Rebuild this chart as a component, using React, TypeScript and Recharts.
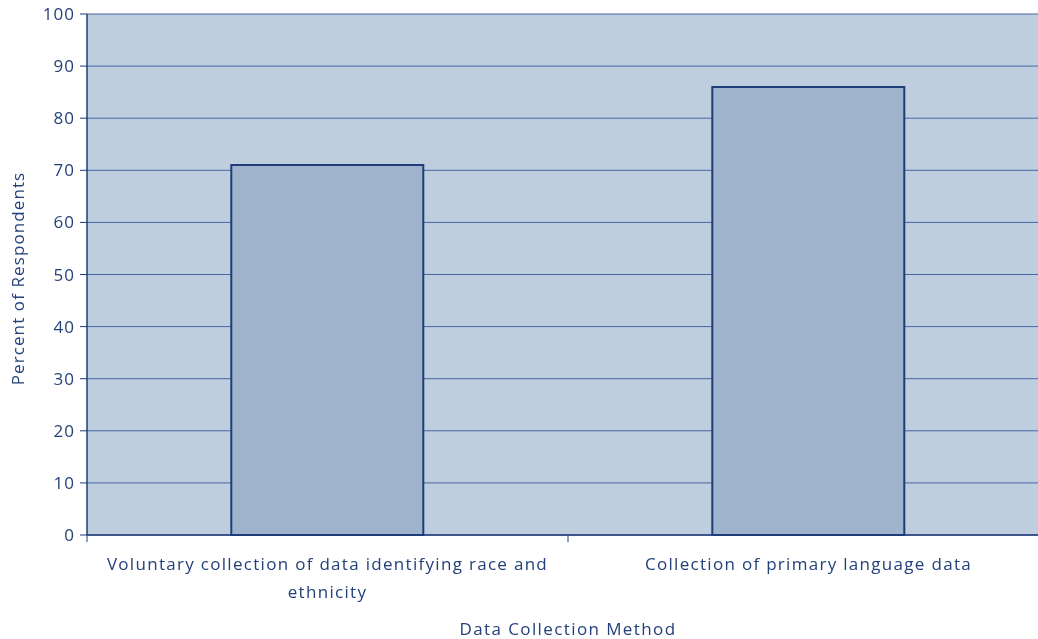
import React from 'react';
import { BarChart, Bar, XAxis, YAxis, CartesianGrid, Text } from 'recharts';

const categories = [
  'Voluntary collection of data identifying race and ethnicity',
  'Collection of primary language data',
];
const percentValues = [71, 86];
const yTicks = [0, 10, 20, 30, 40, 50, 60, 70, 80, 90, 100];

const data = categories.map((name, i) => ({ name, value: percentValues[i] }));

const TEXT = '#23417a';
const DARK = '#1f3c78';
const FONT = '"Open Sans", sans-serif';

const CatTick = (props: any) => {
  const { x, y, payload, index } = props;
  const half = payload && payload.offset ? payload.offset : 0;
  return (
    <g>
      {index === 0 && half ? (
        <line x1={x - half} x2={x - half} y1={y - 8} y2={y - 1} stroke={DARK} strokeWidth={1} />
      ) : null}
      {half ? (
        <line x1={x + half} x2={x + half} y1={y - 8} y2={y - 1} stroke={DARK} strokeWidth={1} />
      ) : null}
      <Text
        x={x}
        y={y + 15}
        width={420}
        textAnchor="middle"
        verticalAnchor="start"
        lineHeight={28}
        fill={TEXT}
        fontSize={17}
        fontFamily={FONT}
        style={{ letterSpacing: '1.3px' }}
      >
        {payload.value}
      </Text>
    </g>
  );
};

export default function App() {
  return (
    <div style={{ position: 'fixed', left: 0, top: 0, width: 1038, height: 639, overflow: 'hidden' }}>
      <div style={{ position: 'absolute', left: 0, top: 0 }}>
        <BarChart
          width={1053}
          height={639}
          data={data}
          margin={{ top: 14, right: 4, bottom: 4, left: 27 }}
          barCategoryGap="30%"
        >
          <CartesianGrid
            vertical={false}
            fill="#bfcedf"
            fillOpacity={1}
            stroke="#4767a0"
            strokeWidth={1}
          />
          <XAxis
            dataKey="name"
            height={100}
            axisLine={{ stroke: DARK, strokeWidth: 1.5 }}
            tickLine={false}
            tick={<CatTick />}
            interval={0}
            label={{
              value: 'Data Collection Method',
              position: 'insideBottom',
              offset: 0,
              fill: TEXT,
              fontSize: 17,
              fontFamily: FONT,
              style: { letterSpacing: '1.4px' },
            }}
          />
          <YAxis
            domain={[0, 100]}
            ticks={yTicks}
            width={60}
            axisLine={{ stroke: DARK, strokeWidth: 1.5 }}
            tickLine={{ stroke: DARK }}
            tickSize={7}
            tick={{ fill: TEXT, fontSize: 17, fontFamily: FONT, dx: -3, style: { letterSpacing: '1px' } }}
            label={{
              value: 'Percent of Respondents',
              angle: -90,
              position: 'insideLeft',
              offset: -9,
              dy: 4,
              fill: TEXT,
              fontSize: 17,
              fontFamily: FONT,
              style: { textAnchor: 'middle', letterSpacing: '1.1px' },
            }}
          />
          <Bar
            dataKey="value"
            fill="#9fb4cc"
            stroke={DARK}
            strokeWidth={2}
            isAnimationActive={false}
          />
        </BarChart>
      </div>
    </div>
  );
}
